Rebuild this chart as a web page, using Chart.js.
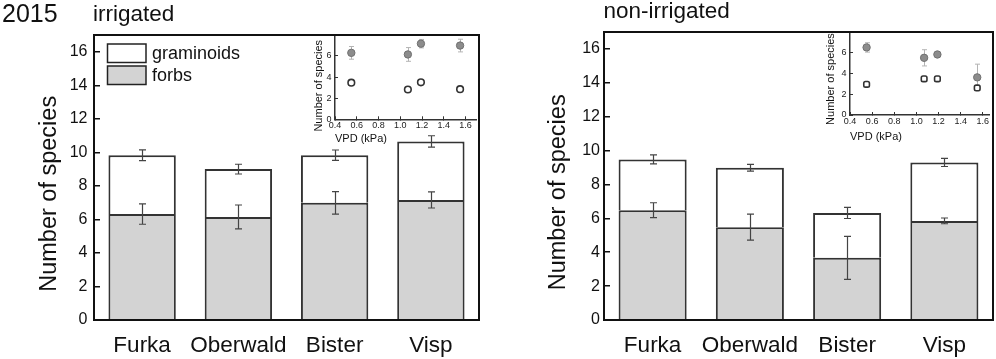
<!DOCTYPE html>
<html><head><meta charset="utf-8">
<script src="https://cdn.jsdelivr.net/npm/chart.js@4.4.1/dist/chart.umd.min.js"></script>
<style>
html,body{margin:0;padding:0;background:#fff;}
#wrap{position:relative;width:996px;height:359px;overflow:hidden;font-family:'Liberation Sans',Arial,sans-serif;background:#fff;}
canvas{position:absolute;}
.t{position:absolute;line-height:1;white-space:nowrap;color:#111;}
</style></head><body>
<div id="wrap">
  <canvas id="mainL" style="left:0;top:0;width:498px;height:359px" width="498" height="359"></canvas>
  <canvas id="mainR" style="left:498px;top:0;width:498px;height:359px" width="498" height="359"></canvas>
  <canvas id="insetL" style="left:290px;top:25px;width:192px;height:125px" width="192" height="125"></canvas>
  <canvas id="insetR" style="left:805px;top:22px;width:190px;height:125px" width="190" height="125"></canvas>
  <div class="t" style="left:2px;top:0.6px;font-size:25px">2015</div>
  <div class="t" style="left:93px;top:2.7px;font-size:22.5px">irrigated</div>
  <div class="t" style="left:603.5px;top:-0.5px;font-size:22.5px">non-irrigated</div>
</div>
<script>
// ---- data ----
const categories = ['Furka', 'Oberwald', 'Bister', 'Visp'];
const seriesNames = ['forbs', 'graminoids'];

const irrForbs     = [6.32, 6.15, 6.99, 7.16];
const irrForbsErr  = [0.61, 0.71, 0.67, 0.48];
const irrGram      = [3.51, 2.85, 2.84, 3.49];
const irrTotalErr  = [0.32, 0.29, 0.31, 0.34];

const nonForbs     = [6.48, 5.48, 3.67, 5.85];
const nonForbsErr  = [0.44, 0.77, 1.27, 0.17];
const nonGram      = [3.00, 3.51, 2.65, 3.45];
const nonTotalErr  = [0.27, 0.20, 0.33, 0.24];

const vpd = [0.55, 1.07, 1.19, 1.55];
const irrInsetForbs    = [6.29, 6.14, 7.16, 6.98];
const irrInsetForbsErr = [0.60, 0.65, 0.40, 0.60];
const irrInsetGram     = [3.47, 2.82, 3.50, 2.85];
const irrInsetGramErr  = [0.20, 0.12, 0.20, 0.10];

const nonInsetForbs    = [6.50, 5.50, 5.82, 3.62];
const nonInsetForbsErr = [0.45, 0.78, 0.12, 1.27];
const nonInsetGram     = [2.95, 3.48, 3.48, 2.60];
const nonInsetGramErr  = [0.12, 0.08, 0.08, 0.20];

// ---- setup ----
const FONT = "'Liberation Sans', Arial, sans-serif";
Chart.defaults.font.family = FONT;
Chart.defaults.color = '#111';

const errPlugin = {
  id: 'errBars',
  _draw(chart, o) {
    const ys = chart.scales.y, ctx = chart.ctx;
    ctx.save();
    chart.data.datasets.forEach((ds, di) => {
      if (!ds.errors) return;
      const meta = chart.getDatasetMeta(di);
      ctx.strokeStyle = ds.errColor || o.color;
      ctx.lineWidth = o.lineWidth;
      meta.data.forEach((el, i) => {
        const v = ys.getValueForPixel(el.y);
        const e = ds.errors[i];
        const y1 = ys.getPixelForValue(v + e), y2 = ys.getPixelForValue(v - e);
        const x = Math.round(el.x) + 0.5, c = o.cap;
        ctx.beginPath();
        ctx.moveTo(x, y1); ctx.lineTo(x, y2);
        ctx.moveTo(x - c, y1); ctx.lineTo(x + c, y1);
        ctx.moveTo(x - c, y2); ctx.lineTo(x + c, y2);
        ctx.stroke();
      });
    });
    ctx.restore();
  },
  beforeDatasetsDraw(chart, args, o) { if (o.behind) this._draw(chart, o); },
  afterDatasetsDraw(chart, args, o) { if (!o.behind) this._draw(chart, o); }
};

const framePlugin = {
  id: 'frame',
  afterDraw(chart, args, o) {
    if (!o.show) return;
    const ca = chart.chartArea, ctx = chart.ctx;
    ctx.save();
    ctx.strokeStyle = '#111'; ctx.lineWidth = 2;
    ctx.beginPath();
    ctx.moveTo(ca.left - 1, ca.top); ctx.lineTo(ca.right, ca.top); ctx.lineTo(ca.right, ca.bottom + 1);
    ctx.stroke();
    ctx.restore();
  }
};

const legendPlugin = {
  id: 'boxLegend',
  afterDraw(chart, args, o) {
    if (!o.show) return;
    const ctx = chart.ctx, ca = chart.chartArea;
    const ds = chart.data.datasets.slice().reverse();
    ctx.save();
    ds.forEach((d, k) => {
      const x = ca.left + o.dx, y = ca.top + o.dy + k * o.step;
      ctx.fillStyle = d.backgroundColor; ctx.fillRect(x, y, o.w, o.h);
      ctx.strokeStyle = '#222'; ctx.lineWidth = 1.5; ctx.strokeRect(x, y, o.w, o.h);
      ctx.fillStyle = '#111'; ctx.font = o.size + 'px ' + FONT; ctx.textBaseline = 'middle'; ctx.textAlign = 'left';
      ctx.fillText(d.label, x + o.w + 6, y + o.h / 2 + 1);
    });
    ctx.restore();
  }
};

// trailing spaces shift the centred rotated title slightly downward, as in the original
const yTitleMain = 'Number of species     ';

function mainChart(id, forbs, forbsErr, gram, totErr, p) {
  return new Chart(document.getElementById(id), {
    type: 'bar',
    data: {
      labels: categories,
      datasets: [
        { label: seriesNames[0], data: forbs, errors: forbsErr, backgroundColor: '#d3d3d3', borderColor: '#333', borderWidth: 2, barPercentage: 0.7, categoryPercentage: 1 },
        { label: seriesNames[1], data: gram, errors: totErr, backgroundColor: '#ffffff', borderColor: '#333', borderWidth: 2, barPercentage: 0.7, categoryPercentage: 1 }
      ]
    },
    options: {
      responsive: false, animation: false, devicePixelRatio: 1,
      layout: { padding: { left: 0, top: p.top, right: p.right, bottom: 0 } },
      plugins: {
        legend: { display: false }, tooltip: { enabled: false },
        errBars: { color: '#444', lineWidth: 1.2, cap: 3.5, behind: false },
        frame: { show: true },
        boxLegend: { show: p.legend, dx: 13.5, dy: 9, step: 22, w: 38.5, h: 18.5, size: 18 }
      },
      scales: {
        x: {
          stacked: true,
          grid: { display: false, drawTicks: false },
          border: { display: true, color: '#111', width: 2, z: 1 },
          ticks: { font: { size: 22.5 }, color: '#111', padding: 12, maxRotation: 0, autoSkip: false },
          afterFit(s) { s.height = 39; }
        },
        y: {
          stacked: true, min: 0, max: 17,
          ticks: { stepSize: 2, includeBounds: false, font: { size: 16 }, color: '#111', padding: p.tickPad },
          grid: { drawOnChartArea: false, drawTicks: true, tickLength: -6, color: '#111', lineWidth: 1.5 },
          border: { display: true, color: '#111', width: 2, z: 1 },
          title: { display: true, text: yTitleMain, font: { size: 23.5 }, color: '#111', padding: { top: p.titlePad, bottom: 0 } },
          afterFit(s) { s.width = p.yw; }
        }
      }
    },
    plugins: [errPlugin, framePlugin, legendPlugin]
  });
}

function insetChart(id, forbs, forbsErr, gram, gramErr, p) {
  return new Chart(document.getElementById(id), {
    type: 'scatter',
    data: {
      datasets: [
        { label: seriesNames[0], data: vpd.map((x, i) => ({ x: x, y: forbs[i] })), errors: forbsErr, errColor: '#b4b4b4',
          pointStyle: 'circle', pointRadius: 3.7, backgroundColor: '#8c8c8c', borderColor: '#707070', borderWidth: 1 },
        { label: seriesNames[1], data: vpd.map((x, i) => ({ x: x, y: gram[i] })), errors: gramErr, errColor: '#9a9a9a',
          pointStyle: p.openStyle, pointRadius: 3.3, backgroundColor: '#ffffff', borderColor: '#333', borderWidth: 1.6 }
      ]
    },
    options: {
      responsive: false, animation: false, devicePixelRatio: 1,
      layout: { padding: { left: 0, top: p.top, right: p.right, bottom: 0 } },
      plugins: {
        legend: { display: false }, tooltip: { enabled: false },
        errBars: { color: '#aaa', lineWidth: 1, cap: 2.5, behind: true },
        frame: { show: false },
        boxLegend: { show: false }
      },
      scales: {
        x: {
          type: 'linear', min: 0.4, max: p.xmax,
          ticks: { stepSize: 0.2, includeBounds: false, font: { size: 9 }, color: '#222', padding: 4.3, maxRotation: 0,
                   callback: v => Number(v).toFixed(1) },
          grid: { drawOnChartArea: false, drawTicks: true, tickLength: -3, color: '#333', lineWidth: 1 },
          border: { display: true, color: '#333', width: 1.5, z: 1 },
          title: { display: true, text: 'VPD (kPa)', align: 'start', font: { size: 11 }, color: '#111', padding: { top: 0, bottom: p.xtPad } },
          afterFit(s) { s.height = p.xh; }
        },
        y: {
          min: 0, max: 7.8,
          ticks: { stepSize: 2, includeBounds: false, font: { size: 9 }, color: '#222', padding: 6.5 },
          grid: { drawOnChartArea: false, drawTicks: true, tickLength: -3, color: '#333', lineWidth: 1 },
          border: { display: true, color: '#333', width: 1.5, z: 1 },
          title: { display: true, text: p.yTitle, font: { size: 11 }, color: '#111', padding: { top: p.ytPad, bottom: 0 } },
          afterFit(s) { s.width = 45; }
        }
      }
    },
    plugins: [errPlugin, framePlugin, legendPlugin]
  });
}

mainChart('mainL', irrForbs, irrForbsErr, irrGram, irrTotalErr, { top: 35, right: 19, yw: 94, tickPad: 12.5, titlePad: 35, legend: true });
mainChart('mainR', nonForbs, nonForbsErr, nonGram, nonTotalErr, { top: 32, right: 3, yw: 106, tickPad: 10, titlePad: 46.5, legend: false });
insetChart('insetL', irrInsetForbs, irrInsetForbsErr, irrInsetGram, irrInsetGramErr, { top: 10, right: 3, xmax: 1.7, xh: 30.7, xtPad: 4.4, ytPad: 21.9, openStyle: 'circle', yTitle: 'Number of species     ' });
insetChart('insetR', nonInsetForbs, nonInsetForbsErr, nonInsetGram, nonInsetGramErr, { top: 10, right: 2, xmax: 1.66, xh: 32, xtPad: 3.4, ytPad: 19.4, openStyle: 'rectRounded', yTitle: 'Number of species   ' });
</script>
</body></html>
